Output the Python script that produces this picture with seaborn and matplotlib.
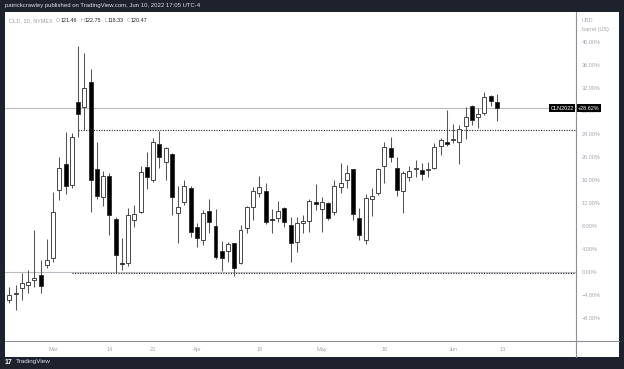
import numpy as np
import pandas as pd
import matplotlib
matplotlib.use("Agg")
import matplotlib.pyplot as plt
from matplotlib.lines import Line2D
from matplotlib.patches import Rectangle
import seaborn as sns

sns.set_theme(style="white")
plt.rcParams['font.family'] = ['Liberation Sans', 'DejaVu Sans']

# daily candles in % change (CL1!, 1D)
opens = [-4.82, -3.85, -2.67, -2.15, -1.34, -0.47, 1.27, 2.43, 14.31, 18.83,
         15.18, 29.62, 28.81, 33.15, 17.91, 13.15, 16.75, 9.21, 1.68, 1.68,
         9.10, 10.54, 18.37, 16.05, 22.31, 19.24, 20.57, 10.37, 12.28, 14.72,
         7.94, 5.62, 10.66, 8.05, 3.76, 3.70, 5.04, 1.56, 7.65, 11.41,
         13.73, 14.20, 9.21, 9.39, 11.12, 8.23, 5.33, 8.63, 8.98, 12.23,
         11.01, 12.11, 10.54, 14.89, 16.05, 17.91, 9.50, 5.62, 12.75, 13.73,
         18.49, 21.56, 18.20, 14.14, 16.63, 17.91, 17.79, 17.79, 18.08, 21.97,
         22.60, 23.01, 22.72, 25.44, 28.98, 27.07, 27.76, 30.72, 29.68]
highs = [-2.50, -2.21, -0.18, 0.40, 7.36, 2.14, 5.73, 14.02, 20.11, 24.46,
         24.17, 39.36, 38.20, 35.30, 22.72, 17.68, 17.21, 9.68, 5.91, 11.12,
         11.70, 18.49, 20.98, 23.30, 24.63, 21.85, 20.70, 15.07, 16.05, 15.07,
         8.63, 10.83, 12.69, 10.95, 5.50, 5.33, 5.10, 8.23, 11.59, 14.89,
         16.75, 15.59, 10.95, 12.46, 11.30, 9.68, 9.68, 9.97, 12.69, 15.30,
         13.15, 12.20, 16.05, 18.95, 18.66, 18.00, 11.12, 13.62, 14.60, 18.10,
         22.72, 23.47, 19.99, 17.68, 18.49, 19.53, 18.95, 19.24, 22.54, 23.30,
         28.23, 25.79, 25.62, 28.69, 29.10, 28.52, 31.41, 30.83, 31.06]
lows = [-5.40, -6.56, -4.82, -3.66, -2.50, -3.66, 0.69, 1.85, 12.57, 13.62,
        14.60, 23.59, 24.75, 10.54, 12.69, 11.59, 6.49, -0.18, 0.40, 1.15,
        7.82, 10.26, 14.49, 15.65, 18.08, 16.05, 9.97, 5.15, 11.70, 6.20,
        4.46, 4.75, 6.78, 2.25, 0.28, 1.85, -0.64, 1.44, 6.89, 9.10,
        13.15, 8.40, 6.78, 8.81, 7.94, 1.85, 3.59, 6.78, 7.07, 10.83,
        7.07, 9.10, 9.97, 13.73, 14.60, 9.10, 5.62, 4.92, 9.79, 13.44,
        15.47, 19.24, 13.27, 10.26, 15.94, 16.63, 16.05, 16.63, 17.91, 20.40,
        21.97, 22.43, 18.83, 23.18, 25.62, 25.15, 27.36, 28.98, 26.34]
closes = [-3.95, -3.80, -1.92, -1.69, -0.99, -2.32, 2.14, 10.43, 18.08, 15.01,
          23.59, 27.53, 32.11, 16.05, 13.27, 16.75, 9.97, 3.01, 1.44, 9.97,
          10.14, 17.44, 16.63, 22.72, 19.99, 21.68, 13.15, 11.30, 15.07, 7.07,
          5.91, 10.26, 8.81, 2.60, 2.43, 4.86, 0.69, 7.36, 11.30, 14.20,
          14.89, 8.81, 9.04, 10.72, 8.81, 5.15, 8.63, 8.98, 12.46, 11.82,
          12.17, 9.39, 15.07, 15.59, 17.21, 10.08, 6.49, 12.86, 13.33, 18.02,
          21.85, 19.99, 14.31, 17.33, 17.62, 18.08, 17.10, 17.91, 21.85, 23.01,
          22.37, 23.24, 24.86, 26.95, 26.49, 27.53, 30.43, 29.79, 28.62]

tick_pos = [7, 16, 23, 30, 40, 50, 60, 71, 79]
tick_labels = ['Mar', '14', '23', 'Apr', '18', 'May', '16', 'Jun', '13']
pct_ticks = [-8, -4, 0, 4, 8, 12, 16, 20, 24, 28, 32, 36, 40]
last_pct = 28.62
support = -0.2
support_start = 10
resistance = 24.75
resistance_start = 11

W, H = 624, 369
dark = '#1e222d'
grid_c = '#8c8f96'
lab_c = '#a3a6ad'

df = pd.DataFrame({'open': opens, 'high': highs, 'low': lows, 'close': closes})
df['idx'] = np.arange(len(df))
df['up'] = df['close'] >= df['open']
df['bottom'] = df[['open', 'close']].min(axis=1)
df['height'] = (df['close'] - df['open']).abs().clip(lower=0.18)

fig = plt.figure(figsize=(W / 100, H / 100), dpi=100, facecolor=dark)
fig.add_artist(Rectangle((5 / W, 1 - 357 / H), 614 / W, 345 / H,
                         transform=fig.transFigure, facecolor='white', edgecolor='none', zorder=0))

ax = fig.add_axes([5 / W, 28 / H, 571 / W, 329 / H])
ax.set_facecolor('white')
ax.patch.set_alpha(0)

# reference lines
ax.axhline(last_pct, color='#b9bcc3', lw=0.8, zorder=1)
ax.axhline(0, color='#b9bcc3', lw=0.8, zorder=1)
xmax = 90.67
ax.plot([support_start, xmax], [support, support], color='#222', lw=0.8,
        linestyle=(0, (1, 1.3)), zorder=1)
ax.plot([resistance_start, xmax], [resistance, resistance], color='#222', lw=0.8,
        linestyle=(0, (1, 1.3)), zorder=1)

# candles
ax.vlines(df['idx'], df['low'], df['high'], color='#555555', lw=0.75, zorder=2)
ax.bar(df['idx'], df['height'], bottom=df['bottom'], width=0.62,
       color=np.where(df['up'], 'white', 'black'), edgecolor='#2a2a2a', linewidth=0.6, zorder=3)

ax.set_xlim(-0.69, xmax)
ax.set_ylim(-11.95, 45.27)
for s in ax.spines.values():
    s.set_visible(False)

ax.yaxis.tick_right()
ax.set_yticks(pct_ticks)
ax.set_yticklabels([f"{v:.2f}%".replace('-', '\u2212') for v in pct_ticks])
ax.tick_params(axis='y', length=0, pad=4, labelsize=4, labelcolor=lab_c)
ax.set_xticks(tick_pos)
ax.set_xticklabels(tick_labels)
ax.tick_params(axis='x', length=0, pad=4.5, labelsize=4, labelcolor=lab_c)

# scale separators
fig.add_artist(Line2D([576 / W, 576 / W], [1 - 12 / H, 1 - 357 / H], transform=fig.transFigure,
                      color=grid_c, lw=0.8))
fig.add_artist(Line2D([5 / W, 619 / W], [1 - 341 / H, 1 - 341 / H], transform=fig.transFigure,
                      color=grid_c, lw=0.8))

# price labels
ax.text(574 / W, 1 - 108 / H, 'CLN2022', transform=fig.transFigure, ha='right', va='center',
        fontsize=4, color='white', zorder=5,
        bbox=dict(boxstyle='square,pad=0.25', fc='black', ec='none'))
ax.text(578 / W, 1 - 108 / H, '+28.62%', transform=fig.transFigure, ha='left', va='center',
        fontsize=4, color='white', zorder=5,
        bbox=dict(boxstyle='square,pad=0.25', fc='black', ec='none'))
fig.text(582 / W, 1 - 21 / H, 'USD', fontsize=4, color=lab_c, va='center')
fig.text(582 / W, 1 - 30 / H, 'barrel (US)', fontsize=4, color=lab_c, va='center')

# header
fig.text(5 / W, 1 - 6 / H, 'patrickcrawley published on TradingView.com, Jun 10, 2022 17:05 UTC-4',
         fontsize=4.3, color='#e0e3eb', va='center')

# legend line, pieces laid out one after another
fig.canvas.draw()
renderer = fig.canvas.get_renderer()
x = 9
pieces = [('CL1!, 1D, NYMEX', '#9a9da4', 3.5), ('O', '#9a9da4', 0), ('121.46', '#222', 3.5),
          ('H', '#9a9da4', 0), ('122.75', '#222', 3.5), ('L', '#9a9da4', 0), ('118.33', '#222', 3.5),
          ('C', '#9a9da4', 0), ('120.47', '#222', 0)]
for t, c, gap in pieces:
    txt = fig.text(x / W, 1 - 21 / H, t, fontsize=3.9, color=c, va='center')
    x += txt.get_window_extent(renderer).width + gap

# footer
fig.text(5 / W, 1 - 362 / H, '17', fontsize=5, color='white', fontweight='bold', va='center')
fig.text(16 / W, 1 - 362 / H, 'TradingView', fontsize=4.6, color='#e0e3eb', va='center')

fig.savefig('out.png', dpi=100, facecolor=dark)
plt.close(fig)
